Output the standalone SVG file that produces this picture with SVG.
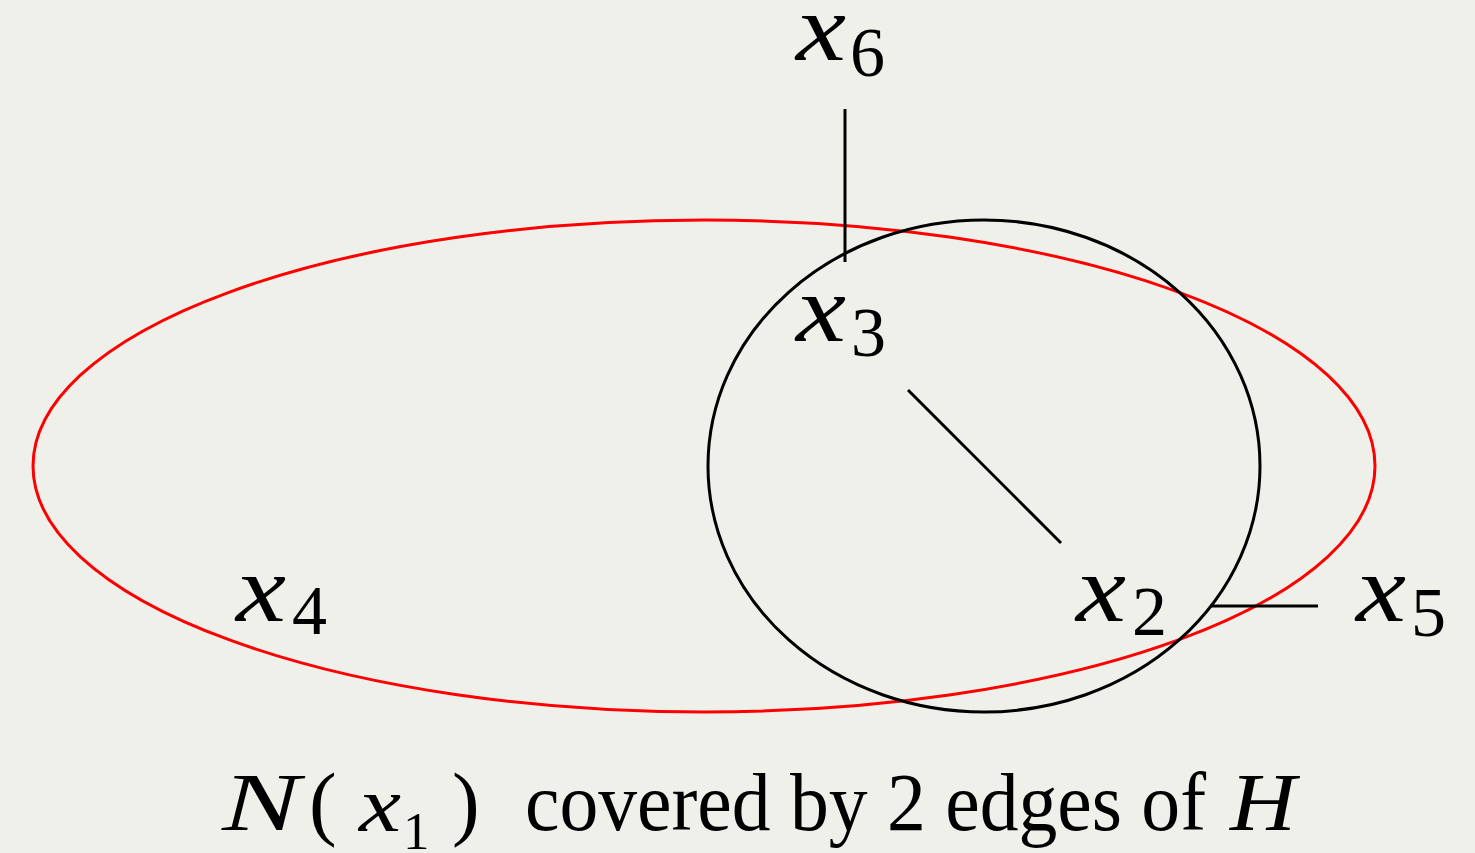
<svg xmlns="http://www.w3.org/2000/svg" width="1475" height="853" viewBox="0 0 1475 853">
<style>
.m{font-family:"Liberation Serif","DejaVu Serif",serif;font-style:italic;font-size:96px;fill:#000}
.s{font-family:"Liberation Serif","DejaVu Serif",serif;font-size:70px;fill:#000}
.c{font-family:"Liberation Serif","DejaVu Serif",serif;font-size:83px;fill:#000}
.cm{font-family:"Liberation Serif","DejaVu Serif",serif;font-style:italic;font-size:78px;fill:#000}
.cs{font-family:"Liberation Serif","DejaVu Serif",serif;font-size:53px;fill:#000}
.e{fill:none;stroke-width:3}
.l{stroke:#000;stroke-width:3;fill:none}
</style>
<rect width="1475" height="853" fill="#f0f0eb"/>
<g id="edges">
<ellipse id="edge-red" class="e" cx="704" cy="466" rx="671" ry="246" stroke="#ff0000"/>
<ellipse id="edge-black" class="e" cx="984" cy="466" rx="276" ry="246" stroke="#000"/>
</g>
<g id="connectors">
<line class="l" x1="845" y1="109" x2="845" y2="262"/>
<line class="l" x1="908" y1="390" x2="1061" y2="543"/>
<line class="l" x1="1211" y1="606" x2="1318" y2="606"/>
</g>
<g id="x6"><text class="m" x="796" y="60" textLength="50" lengthAdjust="spacingAndGlyphs">x</text><text class="s" x="850" y="76">6</text></g>
<g id="x3"><text class="m" x="796" y="341" textLength="50" lengthAdjust="spacingAndGlyphs">x</text><text class="s" x="851" y="356">3</text></g>
<g id="x4"><text class="m" x="236" y="621" textLength="50" lengthAdjust="spacingAndGlyphs">x</text><text class="s" x="292" y="634">4</text></g>
<g id="x2"><text class="m" x="1076" y="621" textLength="50" lengthAdjust="spacingAndGlyphs">x</text><text class="s" x="1132" y="635">2</text></g>
<g id="x5"><text class="m" x="1356" y="621" textLength="50" lengthAdjust="spacingAndGlyphs">x</text><text class="s" x="1411" y="636">5</text></g>
<g id="caption">
<text class="c" x="222" y="830" font-style="italic" textLength="78" lengthAdjust="spacingAndGlyphs">N</text>
<text class="c" x="309" y="830">(</text>
<text class="cm" x="359" y="831" textLength="42" lengthAdjust="spacingAndGlyphs">x</text>
<text class="cs" x="403" y="849">1</text>
<text class="c" x="452" y="830">)</text>
<text class="c" x="525" y="830" textLength="681" lengthAdjust="spacingAndGlyphs">covered by 2 edges of</text>
<text class="c" x="1230" y="830" font-style="italic" textLength="66" lengthAdjust="spacingAndGlyphs">H</text>
</g>
</svg>
